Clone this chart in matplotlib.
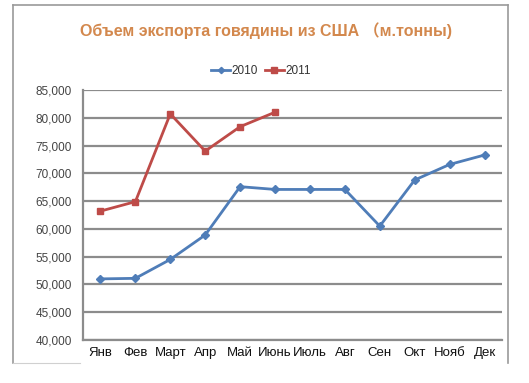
import matplotlib
matplotlib.use("Agg")
import matplotlib.pyplot as plt
from matplotlib.lines import Line2D
from matplotlib.ticker import FuncFormatter

plt.rcParams['font.family'] = ['Liberation Sans', 'Noto Sans CJK SC', 'DejaVu Sans']

months = ["Янв", "Фев", "Март", "Апр", "Май", "Июнь", "Июль", "Авг", "Сен", "Окт", "Нояб", "Дек"]
exports_2010 = [51000, 51100, 54500, 58900, 67600, 67100, 67100, 67100, 60500, 68800, 71600, 73300]
exports_2011 = [63200, 64900, 80700, 74000, 78400, 81000]
title = "Объем экспорта говядины из США （м.тонны)"

W, H = 529, 383
fig = plt.figure(figsize=(W / 100, H / 100), dpi=100)

def fx(px):
    return px / W

def fy(py):
    return 1 - py / H

# outer frame
frame_col = "#9a9a9a"
fig.add_artist(Line2D([fx(13), fx(13)], [fy(5), fy(363)], color=frame_col, lw=1.2))
fig.add_artist(Line2D([fx(13), fx(508)], [fy(5), fy(5)], color=frame_col, lw=1.2))
fig.add_artist(Line2D([fx(508), fx(508)], [fy(5), fy(363)], color=frame_col, lw=1.2))
fig.add_artist(Line2D([fx(13), fx(80)], [fy(363), fy(363)], color="#d0d0d0", lw=0.8))

left, right, top, bottom = 83, 502, 90, 340
ax = fig.add_axes([fx(left), fy(bottom), fx(right - left), (bottom - top) / H])

x = list(range(len(months)))
blue = "#4F7DB8"
red = "#BE4B48"
ax.plot(x, exports_2010, color=blue, lw=2.0, marker="D", ms=4, label="2010", zorder=3)
ax.plot(x[:len(exports_2011)], exports_2011, color=red, lw=2.0, marker="s", ms=5, label="2011", zorder=3)

ax.set_xlim(-0.5, 11.5)
ax.set_ylim(40000, 85000)
ax.set_yticks(range(40000, 85001, 5000))
ax.yaxis.set_major_formatter(FuncFormatter(lambda v, p: f"{int(v):,}"))
ax.set_xticks(x)
ax.set_xticklabels(months, fontsize=9.5)
ax.tick_params(axis="y", labelsize=8.5, length=0, pad=8, colors="#444444")
ax.tick_params(axis="x", length=0, pad=5, colors="#111111")
ax.grid(axis="y", color="#8c8c8c", lw=1.6, zorder=1)
ax.set_axisbelow(True)
for s in ["top", "right"]:
    ax.spines[s].set_visible(False)
for s in ["left", "bottom"]:
    ax.spines[s].set_color("#8c8c8c")
    ax.spines[s].set_linewidth(1.6)

fig.text(fx(266), fy(31), title, ha="center", va="center", fontsize=11.5,
         fontweight="bold", color="#D3884D")

fig.legend(handles=ax.get_lines(), loc="center", bbox_to_anchor=(fx(261), fy(71)),
           ncol=2, frameon=False, fontsize=8.5, handlelength=1.6, handletextpad=0.1,
           columnspacing=0.6, markerscale=0.8, labelcolor="#333333")

fig.savefig("out.png", dpi=100)
